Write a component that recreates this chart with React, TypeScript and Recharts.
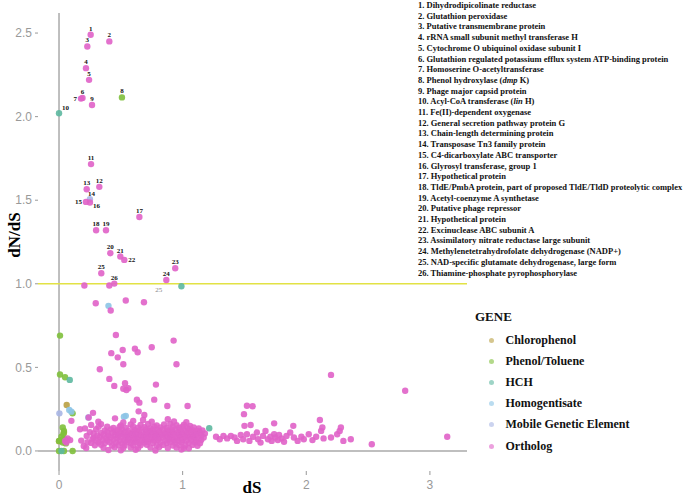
import React from 'react';
import { ScatterChart, Scatter, XAxis, YAxis, ReferenceLine } from 'recharts';

// numbered genes (id, dS, dN/dS)
const orthologLabeled = [
  [1, 0.256, 2.49], [2, 0.407, 2.45], [3, 0.229, 2.42], [4, 0.218, 2.29], [5, 0.243, 2.22],
  [6, 0.19, 2.112], [7, 0.178, 2.108], [9, 0.267, 2.07], [11, 0.259, 1.716], [12, 0.326, 1.58],
  [13, 0.224, 1.566], [15, 0.218, 1.49], [16, 0.25, 1.486], [17, 0.65, 1.4], [18, 0.3, 1.32],
  [19, 0.38, 1.32], [20, 0.415, 1.183], [21, 0.496, 1.163], [22, 0.528, 1.143], [23, 0.94, 1.093],
  [24, 0.868, 1.023], [25, 0.342, 1.063], [26, 0.447, 1.001],
];
const phenolLabeled = [[8, 0.509, 2.115]];
const hchLabeled = [[10, 0.0, 2.02]];
const mobileLabeled = [[14, 0.25, 1.506]];

const orthologScatter = [
  [0.205, 0.99], [0.407, 0.99], [0.297, 0.884], [0.418, 0.84], [0.54, 0.9], [0.687, 0.89],
  [0.46, 0.694], [0.927, 0.66], [0.423, 0.585], [0.515, 0.604], [0.475, 0.56], [0.614, 0.612],
  [0.636, 0.59], [0.75, 0.62], [0.52, 0.519], [0.95, 0.519], [0.33, 0.489], [0.407, 0.431],
  [0.534, 0.405], [0.784, 0.397], [0.447, 0.389], [0.52, 0.372], [0.56, 0.375], [0.545, 0.365],
  [0.63, 0.307], [0.65, 0.289], [0.77, 0.307], [0.876, 0.269], [1.04, 0.269], [0.644, 0.237],
  [0.69, 0.215], [0.275, 0.228], [0.24, 0.2], [0.318, 0.175], [0.26, 0.155], [0.39, 0.145],
  [0.453, 0.195], [0.17, 0.13], [0.21, 0.135], [0.224, 0.09], [0.1, 0.18],
];

const orthologCore = [
  [0.5, 0.152], [0.58, 0.158], [0.66, 0.155], [0.72, 0.161], [0.79, 0.153], [0.85, 0.158], [0.9, 0.162], [0.95, 0.154], [1.01, 0.157], [1.06, 0.149],
  [0.44, 0.138], [0.49, 0.143], [0.54, 0.137], [0.6, 0.145], [0.64, 0.139], [0.69, 0.142], [0.74, 0.136], [0.77, 0.144], [0.82, 0.14], [0.87, 0.137], [0.92, 0.143], [0.97, 0.139], [1.0, 0.145], [1.04, 0.136], [1.09, 0.141], [1.13, 0.134],
  [0.37, 0.122], [0.42, 0.128], [0.47, 0.124], [0.51, 0.127], [0.56, 0.121], [0.61, 0.126], [0.65, 0.123], [0.7, 0.129], [0.73, 0.121], [0.76, 0.126], [0.8, 0.124], [0.84, 0.128], [0.88, 0.122], [0.91, 0.127], [0.94, 0.123], [0.98, 0.126], [1.02, 0.121], [1.05, 0.127], [1.08, 0.124], [1.12, 0.119], [1.16, 0.123],
  [0.34, 0.108], [0.39, 0.112], [0.43, 0.107], [0.46, 0.113], [0.5, 0.109], [0.53, 0.111], [0.57, 0.106], [0.6, 0.112], [0.63, 0.108], [0.67, 0.113], [0.71, 0.107], [0.74, 0.111], [0.78, 0.109], [0.81, 0.113], [0.85, 0.106], [0.89, 0.11], [0.92, 0.112], [0.96, 0.107], [0.99, 0.111], [1.03, 0.108], [1.07, 0.112], [1.1, 0.106], [1.14, 0.109], [1.18, 0.104],
  [0.31, 0.093], [0.36, 0.097], [0.4, 0.092], [0.45, 0.096], [0.48, 0.094], [0.52, 0.098], [0.55, 0.091], [0.59, 0.095], [0.62, 0.097], [0.66, 0.092], [0.69, 0.096], [0.72, 0.094], [0.76, 0.098], [0.79, 0.091], [0.83, 0.095], [0.86, 0.097], [0.9, 0.093], [0.93, 0.096], [0.97, 0.092], [1.0, 0.097], [1.04, 0.094], [1.08, 0.091], [1.11, 0.096], [1.15, 0.093],
  [0.28, 0.079], [0.33, 0.082], [0.38, 0.077], [0.42, 0.081], [0.47, 0.078], [0.5, 0.083], [0.54, 0.079], [0.57, 0.081], [0.61, 0.076], [0.64, 0.082], [0.68, 0.078], [0.71, 0.081], [0.75, 0.079], [0.78, 0.083], [0.81, 0.077], [0.84, 0.08], [0.88, 0.082], [0.91, 0.078], [0.95, 0.081], [0.98, 0.077], [1.02, 0.082], [1.06, 0.079], [1.09, 0.081], [1.13, 0.076], [1.17, 0.08],
  [0.3, 0.063], [0.35, 0.066], [0.39, 0.062], [0.44, 0.067], [0.49, 0.064], [0.53, 0.061], [0.56, 0.066], [0.6, 0.063], [0.63, 0.067], [0.67, 0.062], [0.7, 0.065], [0.74, 0.068], [0.77, 0.063], [0.8, 0.066], [0.86, 0.062], [0.89, 0.067], [0.93, 0.064], [0.96, 0.061], [1.0, 0.066], [1.03, 0.063], [1.07, 0.067], [1.11, 0.062], [1.15, 0.065],
  [0.26, 0.048], [0.32, 0.051], [0.37, 0.047], [0.41, 0.052], [0.46, 0.049], [0.51, 0.046], [0.55, 0.051], [0.58, 0.048], [0.62, 0.052], [0.65, 0.047], [0.69, 0.05], [0.72, 0.053], [0.76, 0.048], [0.82, 0.051], [0.87, 0.047], [0.9, 0.052], [0.94, 0.049], [0.99, 0.051], [1.05, 0.047], [1.1, 0.05], [1.14, 0.046],
  [0.29, 0.034], [0.34, 0.037], [0.43, 0.033], [0.48, 0.036], [0.53, 0.032], [0.6, 0.036], [0.66, 0.034], [0.71, 0.037], [0.79, 0.033], [0.84, 0.036], [0.92, 0.032], [0.97, 0.035], [1.02, 0.033], [1.08, 0.036], [1.12, 0.031],
  [0.36, 0.019], [0.45, 0.022], [0.52, 0.018], [0.58, 0.021], [0.64, 0.017], [0.74, 0.02], [0.81, 0.023], [0.88, 0.018], [0.95, 0.021], [1.01, 0.017],
  [0.4, 0.006], [0.5, 0.004], [0.62, 0.007], [0.78, 0.003], [0.99, 0.008], [1.05, 0.016],
  [0.18, 0.062], [0.2, 0.03], [0.23, 0.052], [0.25, 0.112], [0.27, 0.07], [0.3, 0.13], [0.34, 0.16], [0.22, 0.018], [0.28, 0.105], [0.32, 0.145],
  [0.05, 0.06], [0.07, 0.075], [0.09, 0.065], [0.06, 0.05],
  [0.6, 0.18], [0.75, 0.175], [0.93, 0.176], [0.88, 0.19], [1.03, 0.172], [0.52, 0.17], [0.68, 0.185],
];

const orthologTail = [
  [1.27, 0.085], [1.3, 0.07], [1.33, 0.09], [1.36, 0.075], [1.39, 0.09], [1.42, 0.08], [1.44, 0.06], [1.47, 0.095],
  [1.49, 0.07], [1.52, 0.1], [1.54, 0.06], [1.57, 0.085], [1.6, 0.11], [1.61, 0.07], [1.63, 0.05], [1.65, 0.09],
  [1.67, 0.12], [1.69, 0.07], [1.71, 0.085], [1.72, 0.06], [1.74, 0.1], [1.75, 0.08], [1.77, 0.065], [1.78, 0.095],
  [1.8, 0.075], [1.82, 0.055], [1.84, 0.09], [1.87, 0.11], [1.9, 0.08], [1.93, 0.06], [1.96, 0.085], [1.98, 0.07],
  [2.02, 0.1], [2.05, 0.065], [2.08, 0.085], [2.12, 0.12], [2.14, 0.075], [2.2, 0.08], [2.25, 0.1], [2.27, 0.12],
  [2.3, 0.06], [1.74, 0.165], [1.895, 0.15], [2.11, 0.185], [2.13, 0.14], [2.28, 0.14], [2.36, 0.07], [2.53, 0.04],
  [3.14, 0.085], [2.2, 0.455], [2.8, 0.36], [1.52, 0.27], [1.566, 0.267], [1.496, 0.22], [1.5, 0.15], [1.55, 0.155],
];

const phenolPoints = [
  [0.008, 0.69], [0.008, 0.457], [0.049, 0.441], [0.11, 0.225], [0.03, 0.14], [0.04, 0.12], [0.035, 0.1],
  [0.02, 0.085], [0.045, 0.07], [0.06, 0.062], [0.0, 0.06], [0.03, 0.05], [0.055, 0.045], [0.0, 0.0],
  [0.04, 0.0], [0.11, 0.0], [0.015, 0.065],
];
const chlorophenolPoints = [[0.062, 0.275], [0.04, 0.11], [0.0, 0.058]];
const hchPoints = [[0.99, 0.985], [0.087, 0.425], [1.215, 0.136], [0.02, 0.0]];
const homogentisatePoints = [[0.4, 0.868], [0.083, 0.245], [0.1, 0.235], [0.237, 0.2], [0.54, 0.21], [0.525, 0.205]];
const mobilePoints = [[0.003, 0.225]];

const geneNames = [
  '1. Dihydrodipicolinate reductase',
  '2. Glutathion peroxidase',
  '3. Putative transmembrane protein',
  '4. rRNA small subunit methyl transferase H',
  '5. Cytochrome O ubiquinol oxidase subunit I',
  '6. Glutathion regulated potassium efflux system ATP-binding protein',
  '7. Homoserine O-acetyltransferase',
  '8. Phenol hydroxylase (|dmp| K)',
  '9. Phage major capsid protein',
  '10. Acyl-CoA transferase (|lin| H)',
  '11. Fe(II)-dependent oxygenase',
  '12. General secretion pathway protein G',
  '13. Chain-length determining protein',
  '14. Transposase Tn3 family protein',
  '15. C4-dicarboxylate ABC transporter',
  '16. Glyrosyl transferase, group 1',
  '17. Hypothetical protein',
  '18. TldE/PmbA protein, part of proposed TldE/TldD proteolytic complex',
  '19. Acetyl-coenzyme A synthetase',
  '20. Putative phage repressor',
  '21. Hypothetical protein',
  '22. Excinuclease ABC subunit A',
  '23. Assimilatory nitrate reductase large subunit',
  '24. Methylenetetrahydrofolate dehydrogenase (NADP+)',
  '25. NAD-specific glutamate dehydrogenase, large form',
  '26. Thiamine-phosphate pyrophosphorylase',
];

const xTicks = [0, 1, 2, 3];
const yTicks = [0, 0.5, 1, 1.5, 2, 2.5];

const genes = [
  { name: 'Chlorophenol', color: '#b9a042', points: chlorophenolPoints, labeled: [] as number[][] },
  { name: 'Phenol/Toluene', color: '#80c03c', points: phenolPoints, labeled: phenolLabeled },
  { name: 'HCH', color: '#5db8a0', points: hchPoints, labeled: hchLabeled },
  { name: 'Homogentisate', color: '#8cc4e6', points: homogentisatePoints, labeled: [] as number[][] },
  { name: 'Mobile Genetic Element', color: '#a9b6e4', points: mobilePoints, labeled: mobileLabeled },
  {
    name: 'Ortholog', color: '#e062c8',
    points: [...orthologScatter, ...orthologCore, ...orthologTail], labeled: orthologLabeled,
  },
];

// label placement around a numbered point: dx, dy, anchor
const labelPos: Record<number, [number, number, string]> = {
  7: [-4, 2, 'end'],
  10: [3, -3, 'start'],
  14: [-2, -3.5, 'start'],
  15: [-4, 2, 'end'],
  16: [3, 5.5, 'start'],
  22: [4, 2.5, 'start'],
};

const serif = '"Liberation Serif", "Times New Roman", serif';
const sans = '"Liberation Sans", Arial, sans-serif';

const makeShape = (color: string) => (p: any) => {
  const { cx, cy, payload } = p;
  if (cx == null || cy == null) return <g />;
  const id = payload?.id;
  let label = null;
  if (id) {
    const [dx, dy, anchor] = labelPos[id] ?? [0, -4, 'middle'];
    label = (
      <text x={cx + dx} y={cy + dy} textAnchor={anchor as any} fontSize={7} fontWeight="bold"
        fontFamily={serif} fill="#111">{id}</text>
    );
  }
  return (
    <g>
      <circle cx={cx} cy={cy} r={3.2} fill={color} fillOpacity={0.9} />
      {label}
    </g>
  );
};

const annotShape = (p: any) => (
  <text x={p.cx} y={p.cy + 2.5} textAnchor="middle" fontSize={7} fontFamily={serif} fill="#888">
    {p.payload.text}
  </text>
);

const renderName = (s: string) =>
  s.split('|').map((part, i) => (i % 2 === 1 ? <i key={i}>{part}</i> : <span key={i}>{part}</span>));

export default function App() {
  return (
    <div style={{ position: 'absolute', left: 0, top: 0, width: 685, height: 496, background: '#fff' }}>
      <ScatterChart width={685} height={496} margin={{ top: 13, right: 218, bottom: 0, left: 0 }}>
        <XAxis type="number" dataKey="x" domain={[-0.17, 3.3]} ticks={xTicks} allowDataOverflow
          axisLine={false} height={25} tickSize={4} tickMargin={5}
          tickLine={{ stroke: '#999' }} tick={{ fill: '#999', fontSize: 12, fontFamily: sans }} />
        <YAxis type="number" dataKey="y" domain={[-0.12, 2.62]} ticks={yTicks} allowDataOverflow
          axisLine={false} width={38} tickSize={3} tickMargin={3}
          tickFormatter={(v: number) => v.toFixed(1)}
          tickLine={{ stroke: '#999' }} tick={{ fill: '#999', fontSize: 12, fontFamily: sans }} />
        <ReferenceLine x={0} stroke="#aaa" strokeWidth={1.5} />
        <ReferenceLine y={0} stroke="#aaa" strokeWidth={1.5} />
        <ReferenceLine y={1} stroke="#e2e244" strokeWidth={1.5} />
        {genes.map((g) => (
          <Scatter key={g.name} name={g.name} isAnimationActive={false}
            data={[
              ...g.points.map(([x, y]) => ({ x, y })),
              ...g.labeled.map(([id, x, y]) => ({ id, x, y })),
            ]}
            shape={makeShape(g.color)} />
        ))}
        <Scatter name="annot" isAnimationActive={false} data={[{ x: 0.806, y: 0.966, text: '25' }]}
          shape={annotShape} />
      </ScatterChart>

      <div style={{ position: 'absolute', left: 15, top: 235, transform: 'translate(-50%, -50%) rotate(-90deg)',
        fontFamily: serif, fontWeight: 'bold', fontSize: 17, whiteSpace: 'nowrap' }}>dN/dS</div>
      <div style={{ position: 'absolute', left: 252, top: 488, transform: 'translate(-50%, -50%)',
        fontFamily: serif, fontWeight: 'bold', fontSize: 17 }}>dS</div>

      <div style={{ position: 'absolute', left: 418, top: 0, fontFamily: serif, fontWeight: 'bold',
        fontSize: 8.5, lineHeight: '10.7px', color: '#111', whiteSpace: 'nowrap' }}>
        {geneNames.map((n) => <div key={n}>{renderName(n)}</div>)}
      </div>

      <div style={{ position: 'absolute', left: 475, top: 309, fontFamily: serif, fontWeight: 'bold',
        fontSize: 13, color: '#111' }}>GENE</div>
      {genes.map((g, i) => (
        <div key={g.name} style={{ position: 'absolute', left: 486, top: 332 + i * 21.2, height: 16,
          display: 'flex', alignItems: 'center', fontFamily: serif, fontWeight: 'bold', fontSize: 12,
          color: '#111', whiteSpace: 'nowrap' }}>
          <span style={{ width: 5, height: 5, borderRadius: 3, background: g.color, opacity: 0.6,
            marginRight: 12, marginLeft: 2.5 }} />
          {g.name}
        </div>
      ))}
    </div>
  );
}
